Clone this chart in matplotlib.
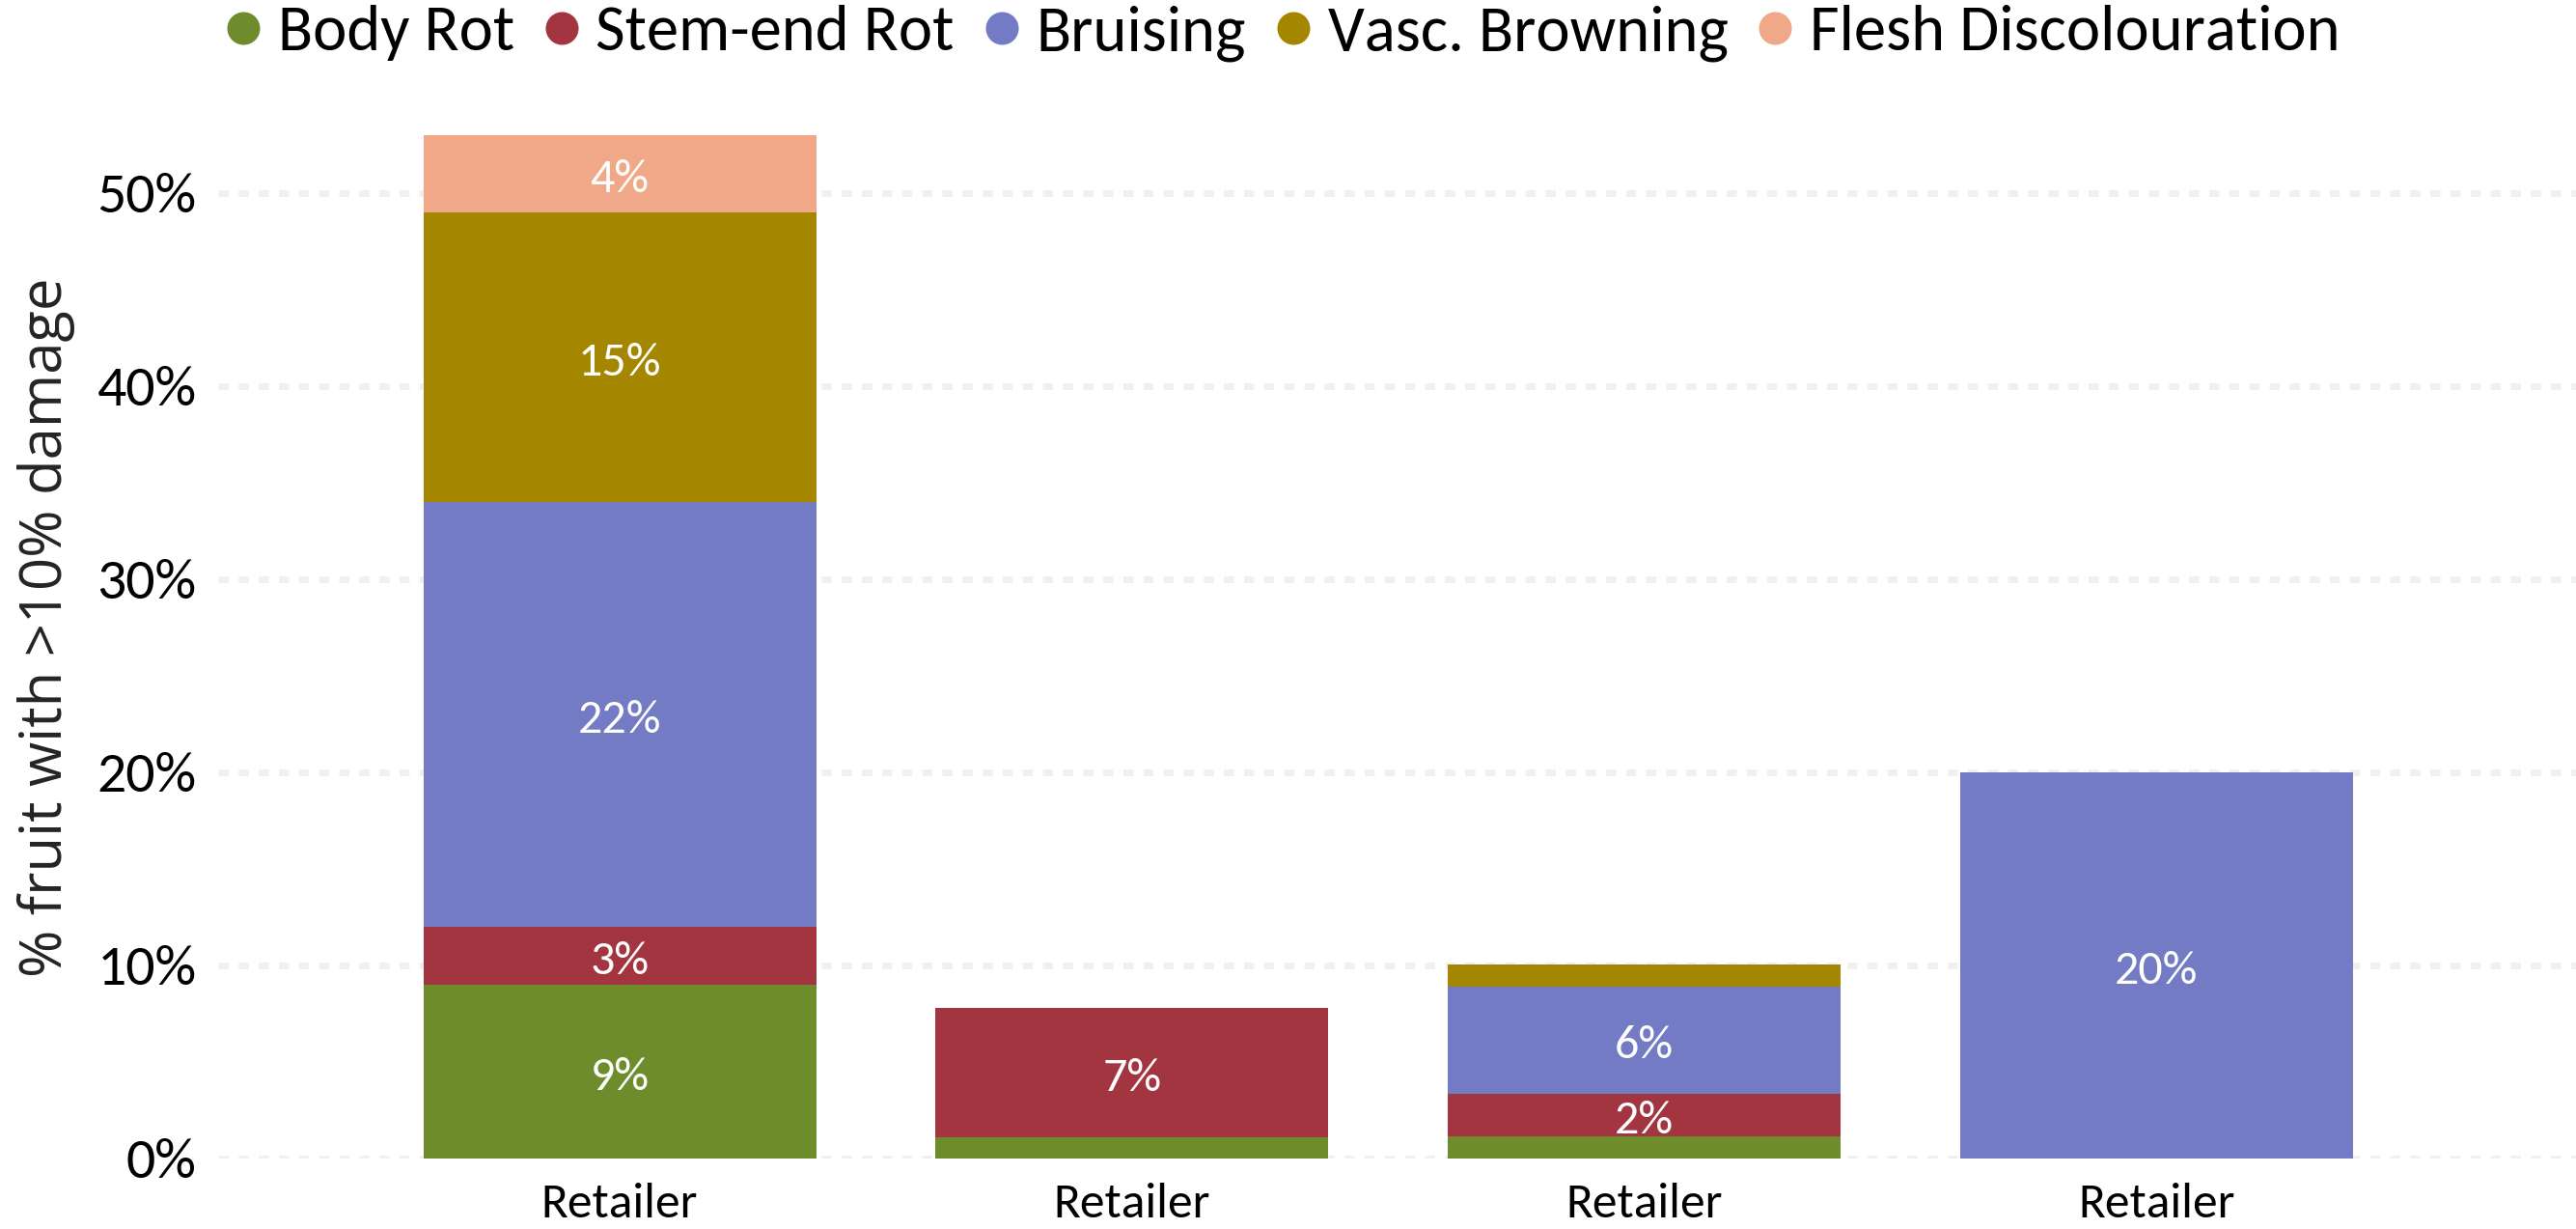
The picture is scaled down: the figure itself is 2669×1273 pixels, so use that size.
import matplotlib
matplotlib.use("Agg")
import matplotlib.pyplot as plt
from matplotlib.lines import Line2D

# data (percent of fruit with >10% damage)
retailers = ["Retailer", "Retailer", "Retailer", "Retailer"]
series = ["Body Rot", "Stem-end Rot", "Bruising", "Vasc. Browning", "Flesh Discolouration"]
body_rot = [9.0, 1.1, 1.15, 0.0]
stem_end_rot = [3.0, 6.7, 2.2, 0.0]
bruising = [22.0, 0.0, 5.55, 20.0]
vasc_browning = [15.0, 0.0, 1.15, 0.0]
flesh_discolouration = [4.0, 0.0, 0.0, 0.0]
colors = ["#6f8c2d", "#a33540", "#727bc4", "#a48600", "#f0a888"]
yticks = [0, 10, 20, 30, 40, 50]

# Carlito has Calibri metrics
plt.rcParams["font.family"] = ["Carlito", "Lato", "DejaVu Sans"]

fig = plt.figure(figsize=(26.69, 12.73), dpi=100)
ax = fig.add_axes([226 / 2669, 73 / 1273, 1 - 226 / 2669, 1100 / 1273])

x = list(range(len(retailers)))
values = [body_rot, stem_end_rot, bruising, vasc_browning, flesh_discolouration]
bottom = [0.0] * len(x)
for name, vals, col in zip(series, values, colors):
    bars = ax.bar(x, vals, width=0.767, bottom=bottom, color=col, label=name, zorder=2)
    for b, v, b0 in zip(bars, vals, bottom):
        if v >= 2:
            ax.annotate(f"{v:.0f}%", (b.get_x() + b.get_width() / 2, b0 + v / 2),
                        xytext=(0, -4), textcoords="offset points",
                        ha="center", va="center", color="white", fontsize=36, zorder=3)
    bottom = [b0 + v for b0, v in zip(bottom, vals)]

ax.set_xlim(-0.784, 3.819)
ax.set_ylim(0, 55)
ax.set_xticks(x)
ax.set_xticklabels(retailers)
ax.set_yticks(yticks)
ax.set_yticklabels([f"{t}%" for t in yticks])
ax.tick_params(axis="x", length=0, pad=18, labelsize=37)
ax.tick_params(axis="y", length=0, pad=16, labelsize=43)
for s in ax.spines.values():
    s.set_visible(False)

ax.set_axisbelow(True)
ax.yaxis.grid(True, color="#f1f0ee", linewidth=5, linestyle=(0, (1.5, 1.5)))
ax.xaxis.grid(False)

ax.set_ylabel("% fruit with >10% damage", fontsize=43, color="#252423",
              family=["Open Sans", "DejaVu Sans"])
ax.yaxis.set_label_coords((78 - 226) / (2669 - 226), 0.5)

handles = [Line2D([], [], linestyle="none", marker="o", markersize=24.5,
                  markerfacecolor=c, markeredgewidth=0) for c in colors]
fig.legend(handles, series, loc="upper center", bbox_to_anchor=(0.498, 1.017),
           ncol=5, frameon=False, fontsize=48, handlelength=0.55,
           handletextpad=0.26, columnspacing=0.46, borderaxespad=0.0)

fig.savefig("out.png", dpi=100)
